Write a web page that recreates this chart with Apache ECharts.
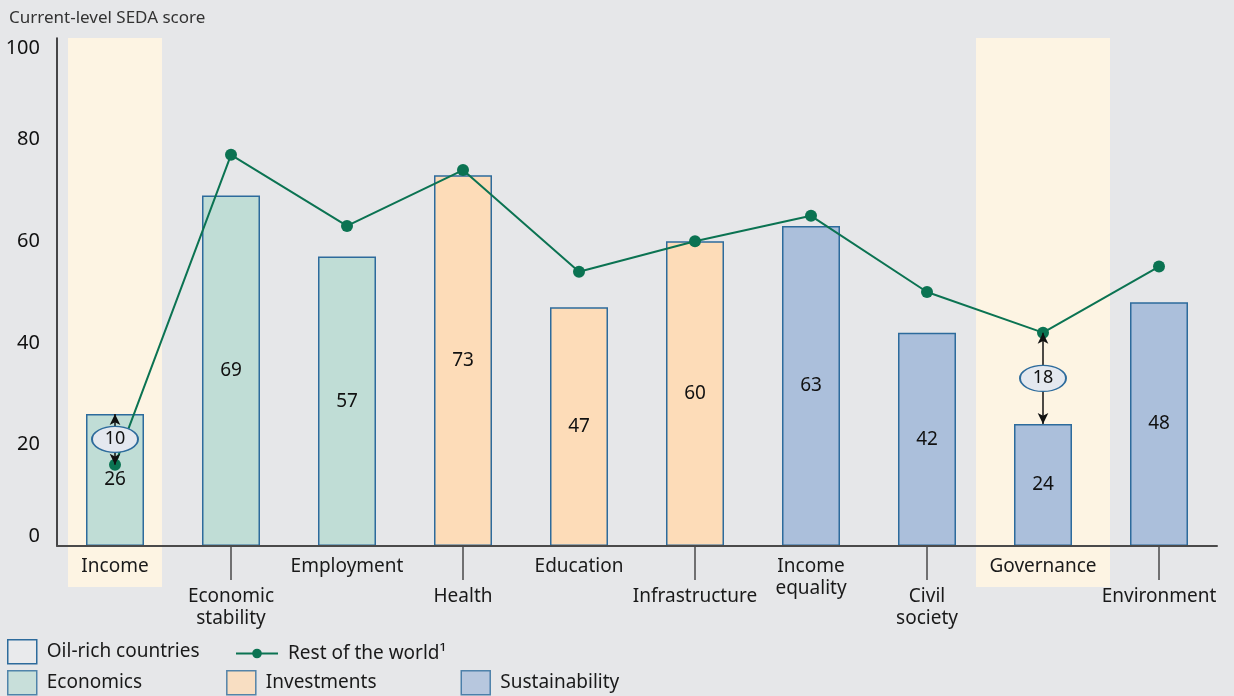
<!DOCTYPE html>
<html>
<head>
<meta charset="utf-8">
<script src="https://cdn.jsdelivr.net/npm/echarts@6/dist/echarts.min.js"></script>
<style>
  html, body { margin: 0; padding: 0; background: #e6e7e9; }
  #chart { width: 1234px; height: 696px; }
</style>
</head>
<body>
<div id="chart"></div>
<script>
// data
var categories = ['Income', 'Economic\nstability', 'Employment', 'Health', 'Education',
    'Infrastructure', 'Income\nequality', 'Civil\nsociety', 'Governance', 'Environment'];
var oilRich = [26, 69, 57, 73, 47, 60, 63, 42, 24, 48];
var restOfWorld = [16, 77, 63, 74, 54, 60, 65, 50, 42, 55];
var groups = ['Economics', 'Economics', 'Economics', 'Investments', 'Investments', 'Investments',
    'Sustainability', 'Sustainability', 'Sustainability', 'Sustainability'];
var groupNames = ['Economics', 'Investments', 'Sustainability'];
var highlighted = ['Income', 'Governance'];
var yTicks = [0, 20, 40, 60, 80, 100];

var groupColors = {
    'Economics': '#c0ddd6',
    'Investments': '#fddcb8',
    'Sustainability': '#abbfdb'
};
var bandWidths = [94, 134];
var FONT = 'Noto Sans';
var BORDER = '#2d6b9c';
var GREEN = '#0b7352';

var chart = echarts.init(document.getElementById('chart'));

// gap markers between the two series for highlighted categories
var gapLines = [];
var gapPoints = [];
highlighted.forEach(function (name) {
    var i = categories.indexOf(name);
    var a = oilRich[i], b = restOfWorld[i];
    gapLines.push([{ coord: [name, b] }, { coord: [name, a] }]);
    gapPoints.push({ coord: [name, (a + b) / 2], value: Math.abs(a - b) });
});

function bandData(name) {
    return categories.map(function (c) { return c === name ? 1 : '-'; });
}

var legendText = { fontFamily: FONT, fontSize: 19, color: '#1a1a1a', padding: [0, 0, 0, 5] };

// one hidden axis + bar per highlight band, so widths don't interact
var bandAxes = highlighted.map(function () {
    return { type: 'category', gridIndex: 1, data: categories, show: false };
});
var bandSeries = highlighted.map(function (name, k) {
    return {
        name: 'band-' + name, type: 'bar', xAxisIndex: 2 + k, yAxisIndex: 1,
        data: bandData(name), barWidth: bandWidths[k], z: 0, silent: true,
        itemStyle: { color: '#fdf4e3' }
    };
});

var option = {
    backgroundColor: '#e6e7e9',
    animation: false,
    textStyle: { fontFamily: FONT },
    title: {
        text: 'Current-level SEDA score',
        left: 4,
        top: 5,
        textStyle: { fontFamily: FONT, fontSize: 17, fontWeight: 'normal', color: '#333' }
    },
    legend: [
        {
            data: [{ name: 'Oil-rich countries', icon: 'rect',
                itemStyle: { color: '#e9eaec', borderColor: BORDER, borderWidth: 1.5 } }],
            left: 7, top: 639, padding: 0, itemWidth: 29, itemHeight: 24,
            selectedMode: false, textStyle: legendText
        },
        {
            data: ['Rest of the world\u00b9'],
            left: 235, top: 644, padding: 0, itemWidth: 42, itemHeight: 12,
            selectedMode: false, textStyle: legendText
        },
        {
            data: groupNames.map(function (g) {
                return { name: g, icon: 'rect',
                    itemStyle: { color: groupColors[g], borderColor: BORDER, borderWidth: 1.5 } };
            }),
            left: 7, top: 670, padding: 0, itemWidth: 29, itemHeight: 24, itemGap: 84,
            selectedMode: false, textStyle: legendText
        }
    ],
    grid: [
        { left: 57, right: 17, top: 38, bottom: 150 },
        { left: 57, right: 17, top: 38, bottom: 109 }
    ],
    xAxis: [
        {
            type: 'category', gridIndex: 0, position: 'bottom', data: categories, z: 5,
            axisLine: { lineStyle: { color: '#4a4a4a', width: 2 } },
            axisTick: { show: false },
            axisLabel: {
                interval: 0, margin: 10, fontFamily: FONT, fontSize: 19, color: '#1a1a1a', lineHeight: 22,
                formatter: function (v, i) { return i % 2 === 0 ? v : ''; }
            }
        },
        {
            type: 'category', gridIndex: 0, position: 'bottom', data: categories, z: 5,
            axisLine: { show: false },
            axisTick: {
                show: true, alignWithLabel: true, length: 34,
                interval: function (i) { return i % 2 === 1; },
                lineStyle: { color: '#4a4a4a', width: 1.5 }
            },
            axisLabel: {
                interval: 0, margin: 40, fontFamily: FONT, fontSize: 19, color: '#1a1a1a', lineHeight: 22,
                formatter: function (v, i) { return i % 2 === 1 ? v : ''; }
            }
        }
    ].concat(bandAxes),
    yAxis: [
        {
            type: 'value', gridIndex: 0, min: yTicks[0], max: yTicks[yTicks.length - 1], interval: 20,
            axisLine: { show: true, lineStyle: { color: '#111', width: 1.5 } },
            axisTick: { show: false },
            splitLine: { show: false },
            axisLabel: {
                margin: 17, fontFamily: FONT, fontSize: 20, color: '#111',
                verticalAlignMinLabel: 'bottom', verticalAlignMaxLabel: 'top'
            }
        },
        { type: 'value', gridIndex: 1, min: 0, max: 1, show: false }
    ],
    series: bandSeries.concat([
        {
            name: 'Oil-rich countries', type: 'bar', xAxisIndex: 0, yAxisIndex: 0,
            barWidth: '50%',
            itemStyle: { color: '#e9eaec', borderColor: BORDER, borderWidth: 1.5 },
            data: oilRich.map(function (v, i) {
                return { value: v, itemStyle: { color: groupColors[groups[i]] } };
            }),
            label: { show: true, position: 'inside', fontFamily: FONT, fontSize: 19, color: '#111' },
            markLine: {
                silent: true, z: 5,
                symbol: ['arrow', 'arrow'], symbolSize: [8, 11],
                label: { show: false },
                lineStyle: { color: '#111', width: 1.5, type: 'solid' },
                data: gapLines
            }
        },
        {
            name: 'Rest of the world\u00b9', type: 'line', xAxisIndex: 0, yAxisIndex: 0,
            data: restOfWorld, z: 4,
            symbol: 'circle', symbolSize: 12,
            itemStyle: { color: GREEN },
            lineStyle: { color: GREEN, width: 2 },
            markPoint: {
                silent: true, z: 7,
                symbol: 'circle', symbolSize: [46, 26],
                itemStyle: { color: '#e4e8ef', borderColor: BORDER, borderWidth: 1.5 },
                label: { show: true, formatter: '{c}', fontFamily: FONT, fontSize: 18, color: '#111' },
                data: gapPoints
            }
        }
    ]).concat(groupNames.map(function (g) {
        return { name: g, type: 'scatter', data: [], itemStyle: { color: groupColors[g] } };
    }))
};

chart.setOption(option);

window.addEventListener('resize', function () {
    chart.resize();
});
</script>
</body>
</html>
